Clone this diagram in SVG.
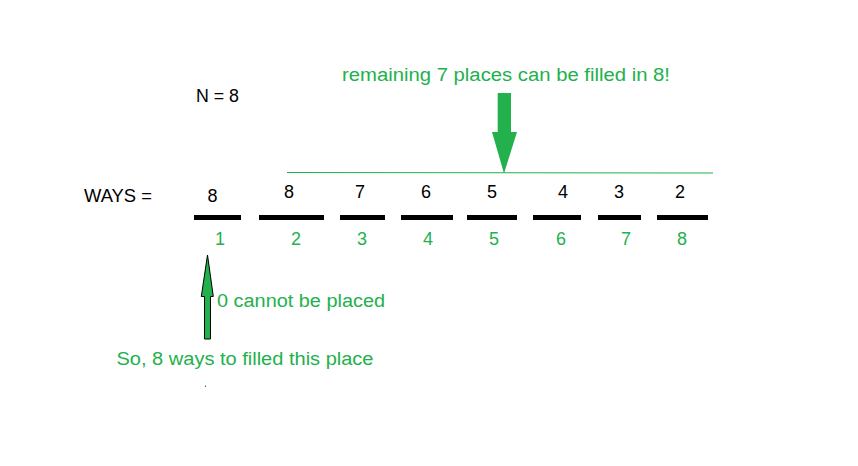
<svg xmlns="http://www.w3.org/2000/svg" width="858" height="466" viewBox="0 0 858 466">
<style>
text{font-family:"Liberation Sans",Arial,sans-serif;font-size:18px}
.k{fill:#000}
.g{fill:#22b14c}
.m{text-anchor:middle}
.bar{fill:#000}
</style>
<rect width="858" height="466" fill="#fff"/>
<g id="title">
<text class="k" x="196" y="102" textLength="43" lengthAdjust="spacingAndGlyphs">N = 8</text>
</g>
<g id="note-top">
<text class="g" x="342" y="81" textLength="328" lengthAdjust="spacingAndGlyphs">remaining 7 places can be filled in 8!</text>
</g>
<g id="ways-label">
<text class="k" x="84" y="202" textLength="68" lengthAdjust="spacingAndGlyphs">WAYS =</text>
</g>
<g id="slot1"><rect class="bar" x="194" y="215" width="47" height="5"/><text class="k m" x="212.5" y="202">8</text><text class="g m" x="220" y="245">1</text></g>
<g id="slot2"><rect class="bar" x="259" y="215" width="65" height="5"/><text class="k m" x="289" y="198">8</text><text class="g m" x="296" y="245">2</text></g>
<g id="slot3"><rect class="bar" x="340" y="215" width="45" height="5"/><text class="k m" x="360" y="198">7</text><text class="g m" x="362" y="245">3</text></g>
<g id="slot4"><rect class="bar" x="401" y="215" width="52" height="5"/><text class="k m" x="426" y="198">6</text><text class="g m" x="428" y="245">4</text></g>
<g id="slot5"><rect class="bar" x="467" y="215" width="50" height="5"/><text class="k m" x="492" y="198">5</text><text class="g m" x="494" y="245">5</text></g>
<g id="slot6"><rect class="bar" x="533" y="215" width="48" height="5"/><text class="k m" x="563" y="198">4</text><text class="g m" x="561" y="245">6</text></g>
<g id="slot7"><rect class="bar" x="598" y="215" width="43" height="5"/><text class="k m" x="619" y="198">3</text><text class="g m" x="626" y="245">7</text></g>
<g id="slot8"><rect class="bar" x="657" y="215" width="51" height="5"/><text class="k m" x="680" y="198">2</text><text class="g m" x="682" y="245">8</text></g>
<g id="note-bottom">
<text class="g" x="217" y="307" textLength="168" lengthAdjust="spacingAndGlyphs">0 cannot be placed</text>
<text class="g" x="116.5" y="365" textLength="257" lengthAdjust="spacingAndGlyphs">So, 8 ways to filled this place</text>
</g>
<g id="connectors">
<line x1="287" y1="172.5" x2="713" y2="173" stroke="#22b14c" stroke-width="1.2"/>
<polygon points="497.7,93 511,93 511,132 517,132 504,173.5 492,132 497.7,132" fill="#22b14c"/>
<polygon points="207.5,255 213.3,296.5 210.5,296.5 210.5,339 204.5,339 204.5,296.5 201.3,296.5" fill="#22b14c" stroke="#000" stroke-width="1"/>
<rect x="205" y="385.5" width="1" height="1.5" fill="#555"/>
</g>
</svg>
